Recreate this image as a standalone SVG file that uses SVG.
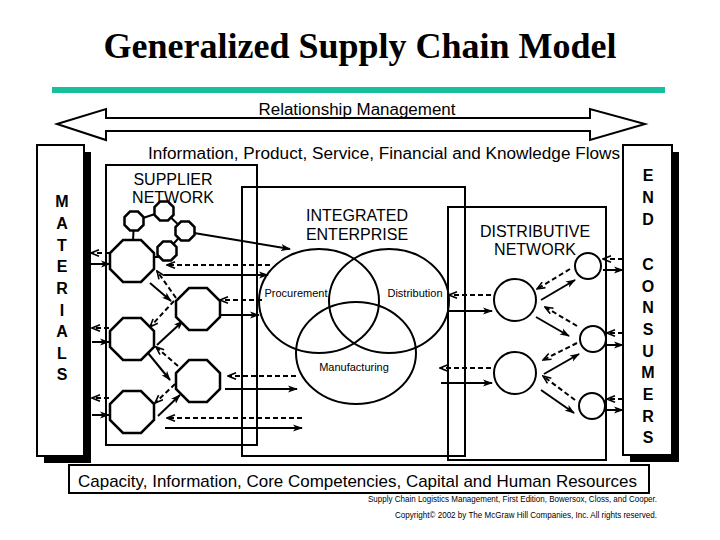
<svg xmlns="http://www.w3.org/2000/svg" width="720" height="540" viewBox="0 0 720 540">
<style>
.sans{font-family:"Liberation Sans",Arial,sans-serif;fill:#000}
.box{fill:none;stroke:#000;stroke-width:2}
.sh{fill:#000}
.oct{fill:#fff;stroke:#000;stroke-width:2.5}
.cir{fill:none;stroke:#000;stroke-width:2}
.s{stroke:#000;stroke-width:2;fill:none;marker-end:url(#ah)}
.d{stroke:#000;stroke-width:2;fill:none;stroke-dasharray:5 3;marker-end:url(#oh)}
.ln{stroke:#000;stroke-width:2;fill:none}
.big{font-size:16px;text-anchor:middle}
.let{font-size:16px;font-weight:bold;text-anchor:middle}
.v{font-size:11px;text-anchor:middle}
</style>
<defs>
<marker id="ah" viewBox="0 0 10 8" refX="9" refY="4" markerWidth="10" markerHeight="8" markerUnits="userSpaceOnUse" orient="auto"><path d="M0,0.5 L10,4 L0,7.5 L2.5,4 z" fill="#000"/></marker>
<marker id="oh" viewBox="0 0 10 8" refX="9" refY="4" markerWidth="10" markerHeight="8" markerUnits="userSpaceOnUse" orient="auto"><path d="M1,0.8 L9,4 L1,7.2" fill="none" stroke="#000" stroke-width="1.6"/></marker>
<polygon id="bo" points="-9,-21 9,-21 22,-8 22,8 9,21 -9,21 -22,8 -22,-8"/>
<polygon id="so" points="-4,-9.5 4,-9.5 9.5,-4 9.5,4 4,9.5 -4,9.5 -9.5,4 -9.5,-4"/>
</defs>
<rect width="720" height="540" fill="#fff"/>

<g id="title">
<text x="360" y="58" text-anchor="middle" style="font-family:'Liberation Serif','Times New Roman',serif;font-weight:bold;font-size:36px">Generalized Supply Chain Model</text>
<rect x="52" y="87" width="613" height="6" fill="#19BE9C"/>
</g>

<g id="relationship">
<polygon points="57,124 106,109 106,118 590,118 590,109 645,124 590,140 590,131 106,131 106,140" fill="#fff" stroke="#000" stroke-width="2"/>
<text class="sans" x="357" y="115" text-anchor="middle" font-size="16" textLength="197" lengthAdjust="spacingAndGlyphs">Relationship Management</text>
</g>

<g id="flows">
<text class="sans" x="148" y="159" font-size="16" textLength="472" lengthAdjust="spacingAndGlyphs">Information, Product, Service, Financial and Knowledge Flows</text>
</g>

<g id="materials">
<rect class="sh" x="44" y="152" width="47" height="311"/>
<rect x="37" y="145" width="47" height="311" fill="#fff" stroke="#000" stroke-width="2"/>
<g class="sans let">
<text x="62" y="207">M</text><text x="62" y="229">A</text><text x="62" y="251">T</text><text x="62" y="272">E</text><text x="62" y="294">R</text><text x="62" y="316">I</text><text x="62" y="337">A</text><text x="62" y="359">L</text><text x="62" y="380">S</text>
</g>
</g>

<g id="end-consumers">
<rect class="sh" x="630" y="152" width="49" height="310"/>
<rect x="623" y="145" width="49" height="310" fill="#fff" stroke="#000" stroke-width="2"/>
<g class="sans let">
<text x="648" y="181">E</text><text x="648" y="203">N</text><text x="648" y="225">D</text><text x="648" y="270">C</text><text x="648" y="292">O</text><text x="648" y="313">N</text><text x="648" y="335">S</text><text x="648" y="357">U</text><text x="648" y="378">M</text><text x="648" y="400">E</text><text x="648" y="422">R</text><text x="648" y="443">S</text>
</g>
</g>

<g id="supplier-network">
<rect class="box" x="106" y="165" width="151" height="280"/>
<text class="sans big" x="173" y="185">SUPPLIER</text>
<text class="sans big" x="173" y="203">NETWORK</text>
</g>

<g id="integrated-enterprise">
<rect class="box" x="242" y="187" width="223" height="269"/>
<text class="sans big" x="357" y="221">INTEGRATED</text>
<text class="sans big" x="357" y="240">ENTERPRISE</text>
</g>

<g id="distributive-network">
<rect class="box" x="448" y="207" width="158" height="253"/>
<text class="sans big" x="535" y="237">DISTRIBUTIVE</text>
<text class="sans big" x="535" y="255">NETWORK</text>
</g>

<g id="procurement">
<ellipse class="cir" cx="319" cy="301" rx="60" ry="52"/>
<text class="sans v" x="296" y="297">Procurement</text>
</g>
<g id="distribution">
<ellipse class="cir" cx="389" cy="301" rx="60" ry="52"/>
<text class="sans v" x="415" y="297">Distribution</text>
</g>
<g id="manufacturing">
<ellipse class="cir" cx="356" cy="353" rx="60" ry="51"/>
<text class="sans v" x="354" y="371">Manufacturing</text>
</g>

<g id="connectors">
<line class="ln" x1="134" y1="221" x2="164" y2="211"/>
<line class="ln" x1="164" y1="211" x2="185" y2="231"/>
<line class="ln" x1="185" y1="231" x2="167" y2="251"/>
<line class="ln" x1="134" y1="221" x2="133" y2="241"/>
<line class="ln" x1="152" y1="257" x2="160" y2="257"/>
<line class="s" x1="194" y1="233" x2="290" y2="249"/>
<line class="d" x1="110" y1="253" x2="91" y2="253"/>
<line class="s" x1="91" y1="264" x2="110" y2="264"/>
<line class="d" x1="109" y1="328" x2="92" y2="328"/>
<line class="s" x1="92" y1="342" x2="109" y2="342"/>
<line class="d" x1="109" y1="398" x2="92" y2="398"/>
<line class="s" x1="92" y1="415" x2="109" y2="415"/>
<line class="s" x1="150" y1="283" x2="171" y2="301"/>
<line class="d" x1="176" y1="298" x2="157" y2="271"/>
<line class="d" x1="174" y1="301" x2="150" y2="327"/>
<line class="s" x1="157" y1="345" x2="183" y2="321"/>
<line class="s" x1="148" y1="353" x2="170" y2="380"/>
<line class="d" x1="178" y1="366" x2="156" y2="347"/>
<line class="d" x1="175" y1="384" x2="155" y2="403"/>
<line class="s" x1="158" y1="416" x2="180" y2="395"/>
<line class="d" x1="270" y1="265" x2="167" y2="265"/>
<line class="s" x1="164" y1="275" x2="268" y2="275"/>
<line class="d" x1="262" y1="300" x2="220" y2="300"/>
<line class="s" x1="221" y1="315" x2="259" y2="315"/>
<line class="d" x1="296" y1="376" x2="228" y2="376"/>
<line class="s" x1="225" y1="389" x2="297" y2="389"/>
<line class="d" x1="302" y1="418" x2="167" y2="418"/>
<line class="s" x1="165" y1="428" x2="302" y2="428"/>
<line class="d" x1="491" y1="295" x2="449" y2="295"/>
<line class="s" x1="447" y1="311" x2="492" y2="311"/>
<line class="d" x1="491" y1="368" x2="440" y2="368"/>
<line class="s" x1="441" y1="383" x2="492" y2="383"/>
<line class="d" x1="570" y1="269" x2="537" y2="289"/>
<line class="s" x1="541" y1="300" x2="575" y2="280"/>
<line class="d" x1="577" y1="326" x2="545" y2="307"/>
<line class="s" x1="536" y1="317" x2="569" y2="336"/>
<line class="d" x1="577" y1="343" x2="543" y2="360"/>
<line class="s" x1="544" y1="374" x2="579" y2="354"/>
<line class="d" x1="575" y1="400" x2="543" y2="376"/>
<line class="s" x1="541" y1="390" x2="574" y2="413"/>
<line class="d" x1="623" y1="259" x2="603" y2="259"/>
<line class="s" x1="603" y1="270" x2="623" y2="270"/>
<line class="d" x1="623" y1="333" x2="607" y2="333"/>
<line class="s" x1="607" y1="345" x2="623" y2="345"/>
<line class="d" x1="623" y1="399" x2="607" y2="399"/>
<line class="s" x1="607" y1="410" x2="623" y2="410"/>
</g>

<g id="supplier-small-1"><use href="#so" x="134" y="221" class="oct"/></g>
<g id="supplier-small-2"><use href="#so" x="164" y="211" class="oct"/></g>
<g id="supplier-small-3"><use href="#so" x="185" y="231" class="oct"/></g>
<g id="supplier-small-4"><use href="#so" x="167" y="251" class="oct"/></g>
<g id="supplier-1"><use href="#bo" x="132" y="261" class="oct"/></g>
<g id="supplier-2"><use href="#bo" x="198" y="309" class="oct"/></g>
<g id="supplier-3"><use href="#bo" x="132" y="339" class="oct"/></g>
<g id="supplier-4"><use href="#bo" x="198" y="381" class="oct"/></g>
<g id="supplier-5"><use href="#bo" x="132" y="412" class="oct"/></g>

<g id="distributor-1"><circle cx="515" cy="300" r="21" fill="#fff" stroke="#000" stroke-width="2"/></g>
<g id="distributor-2"><circle cx="515" cy="373" r="21" fill="#fff" stroke="#000" stroke-width="2"/></g>
<g id="retail-1"><circle cx="588" cy="266" r="13" fill="#fff" stroke="#000" stroke-width="2"/></g>
<g id="retail-2"><circle cx="593" cy="339" r="13" fill="#fff" stroke="#000" stroke-width="2"/></g>
<g id="retail-3"><circle cx="592" cy="406" r="13" fill="#fff" stroke="#000" stroke-width="2"/></g>

<g id="resources">
<rect class="box" x="69" y="465" width="580" height="28"/>
<text class="sans" x="78" y="487" font-size="17" textLength="559" lengthAdjust="spacingAndGlyphs">Capacity, Information, Core Competencies, Capital and Human Resources</text>
</g>

<g id="credits">
<text class="sans" x="657" y="502" font-size="9" text-anchor="end" textLength="289" lengthAdjust="spacingAndGlyphs">Supply Chain Logistics Management, First Edition, Bowersox, Closs, and Cooper.</text>
<text class="sans" x="657" y="518" font-size="9" text-anchor="end" textLength="262" lengthAdjust="spacingAndGlyphs">Copyright© 2002 by The McGraw Hill Companies, Inc. All rights reserved.</text>
</g>
</svg>
